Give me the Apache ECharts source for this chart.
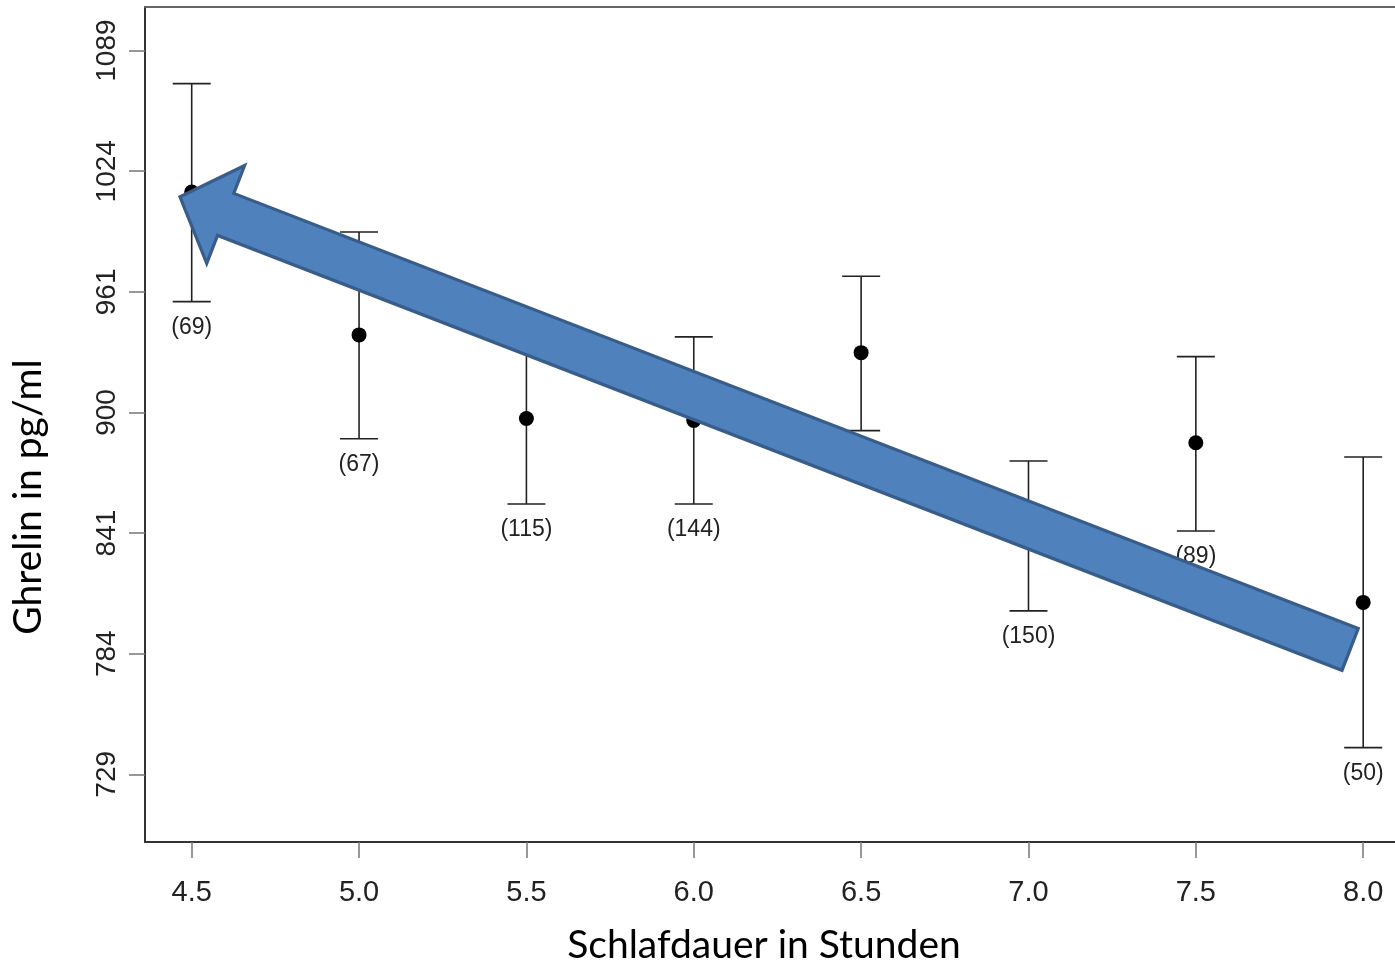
<!DOCTYPE html>
<html>
<head>
<meta charset="utf-8">
<script src="https://cdn.jsdelivr.net/npm/echarts@6/dist/echarts.min.js"></script>
<style>
html,body{margin:0;padding:0;background:#fff;}
#chart{width:1395px;height:967px;}
</style>
</head>
<body>
<div id="chart"></div>
<script>
// ---- data ----
const hours = [4.5, 5.0, 5.5, 6.0, 6.5, 7.0, 7.5, 8.0];
const ghrelinMean  = [1013, 939, 897, 896, 930, 840, 885, 808];
const ghrelinUpper = [1071, 992, 938, 938, 969, 876, 928, 878];
const ghrelinLower = [956, 887, 855, 855, 891, 804, 842, 741];
const sampleSizes  = ['(69)', '(67)', '(115)', '(144)', '', '(150)', '(89)', '(50)'];
const xTickValues = [4.5, 5.0, 5.5, 6.0, 6.5, 7.0, 7.5, 8.0];
const yTickValues = [729, 784, 841, 900, 961, 1024, 1089];
const arrowTail = [7.961, 786];   // [hours, pg/ml]
const arrowTip  = [4.465, 1010.5];
const xTitle = 'Schlafdauer in Stunden';
const yTitle = 'Ghrelin in pg/ml';

// y axis is drawn on a square-root scale
const tr = v => Math.sqrt(v);

const chart = echarts.init(document.getElementById('chart'), null, {renderer: 'canvas'});
const tickFont = "'Liberation Sans', Arial, Helvetica, sans-serif";
const titleFont = "Lato, 'Open Sans', sans-serif";

const errData = hours.map((h, i) => [h, tr(ghrelinLower[i]), tr(ghrelinUpper[i]), i]);
const meanData = hours.map((h, i) => [h, tr(ghrelinMean[i])]);

const option = {
  animation: false,
  backgroundColor: '#fff',
  grid: {left: 145, right: 0, top: 7, bottom: 125, show: false, containLabel: false},
  xAxis: [{
    type: 'value', min: 4.3605, max: 8.095,
    axisLine: {show: true, onZero: false, lineStyle: {color: '#333', width: 2}},
    axisTick: {show: true, length: 16, customValues: xTickValues, lineStyle: {color: '#777', width: 1.5}},
    axisLabel: {customValues: xTickValues, formatter: v => v.toFixed(1), fontFamily: tickFont, fontSize: 29, color: '#222', margin: 36},
    splitLine: {show: false}
  }, {
    type: 'value', position: 'top', min: 4.3605, max: 8.095,
    axisLine: {show: true, onZero: false, lineStyle: {color: '#666', width: 2}},
    axisTick: {show: false}, axisLabel: {show: false}, splitLine: {show: false}
  }],
  yAxis: {
    type: 'value', min: tr(699), max: tr(1113),
    axisLine: {show: true, onZero: false, lineStyle: {color: '#333', width: 2}},
    axisTick: {show: true, length: 16, customValues: yTickValues.map(tr), lineStyle: {color: '#777', width: 1.5}},
    axisLabel: {customValues: yTickValues.map(tr), rotate: 90, formatter: v => String(Math.round(v * v)), fontFamily: tickFont, fontSize: 28, color: '#222', margin: 24},
    splitLine: {show: false}
  },
  graphic: [
    {type: 'text', x: 764, y: 945, style: {text: xTitle, font: '39px ' + titleFont, fill: '#000', align: 'center', verticalAlign: 'middle'}},
    {type: 'text', x: 28, y: 497, rotation: Math.PI / 2, style: {text: yTitle, font: '39px ' + titleFont, fill: '#000', align: 'center', verticalAlign: 'middle'}}
  ],
  series: [
    {
      type: 'custom', z: 2, clip: false,
      data: errData,
      renderItem: function (params, api) {
        const x = api.value(0);
        const lo = api.coord([x, api.value(1)]);
        const hi = api.coord([x, api.value(2)]);
        const idx = api.value(3);
        const cw = 19;
        const ls = {stroke: '#222', lineWidth: 1.6};
        const children = [
          {type: 'line', shape: {x1: lo[0], y1: lo[1], x2: hi[0], y2: hi[1]}, style: ls},
          {type: 'line', shape: {x1: lo[0] - cw, y1: lo[1], x2: lo[0] + cw, y2: lo[1]}, style: ls},
          {type: 'line', shape: {x1: hi[0] - cw, y1: hi[1], x2: hi[0] + cw, y2: hi[1]}, style: ls}
        ];
        const lbl = sampleSizes[idx];
        if (lbl) {
          children.push({type: 'text', style: {text: lbl, x: lo[0], y: lo[1] + 26, align: 'center', verticalAlign: 'middle', font: '23px ' + tickFont, fill: '#222'}});
        }
        return {type: 'group', children: children};
      }
    },
    {
      type: 'scatter', z: 3, data: meanData, symbol: 'circle', symbolSize: 15,
      itemStyle: {color: '#000', opacity: 1}
    },
    {
      type: 'custom', z: 10, clip: false,
      data: [[arrowTail[0], tr(arrowTail[1]), arrowTip[0], tr(arrowTip[1])]],
      renderItem: function (params, api) {
        const tail = api.coord([api.value(0), api.value(1)]);
        const tip = api.coord([api.value(2), api.value(3)]);
        const dx = tip[0] - tail[0], dy = tip[1] - tail[1];
        const L = Math.hypot(dx, dy);
        const ux = dx / L, uy = dy / L, nx = -uy, ny = ux;
        const sw = 22.5, hw = 52.5, hl = 49;
        const bx = tip[0] - ux * hl, by = tip[1] - uy * hl;
        const pts = [
          [tail[0] + nx * sw, tail[1] + ny * sw],
          [bx + nx * sw, by + ny * sw],
          [bx + nx * hw, by + ny * hw],
          [tip[0], tip[1]],
          [bx - nx * hw, by - ny * hw],
          [bx - nx * sw, by - ny * sw],
          [tail[0] - nx * sw, tail[1] - ny * sw]
        ];
        return {type: 'polygon', shape: {points: pts}, style: {fill: '#4F81BD', stroke: '#385D8A', lineWidth: 3.2, lineJoin: 'miter'}};
      }
    }
  ]
};
chart.setOption(option);
</script>
</body>
</html>
